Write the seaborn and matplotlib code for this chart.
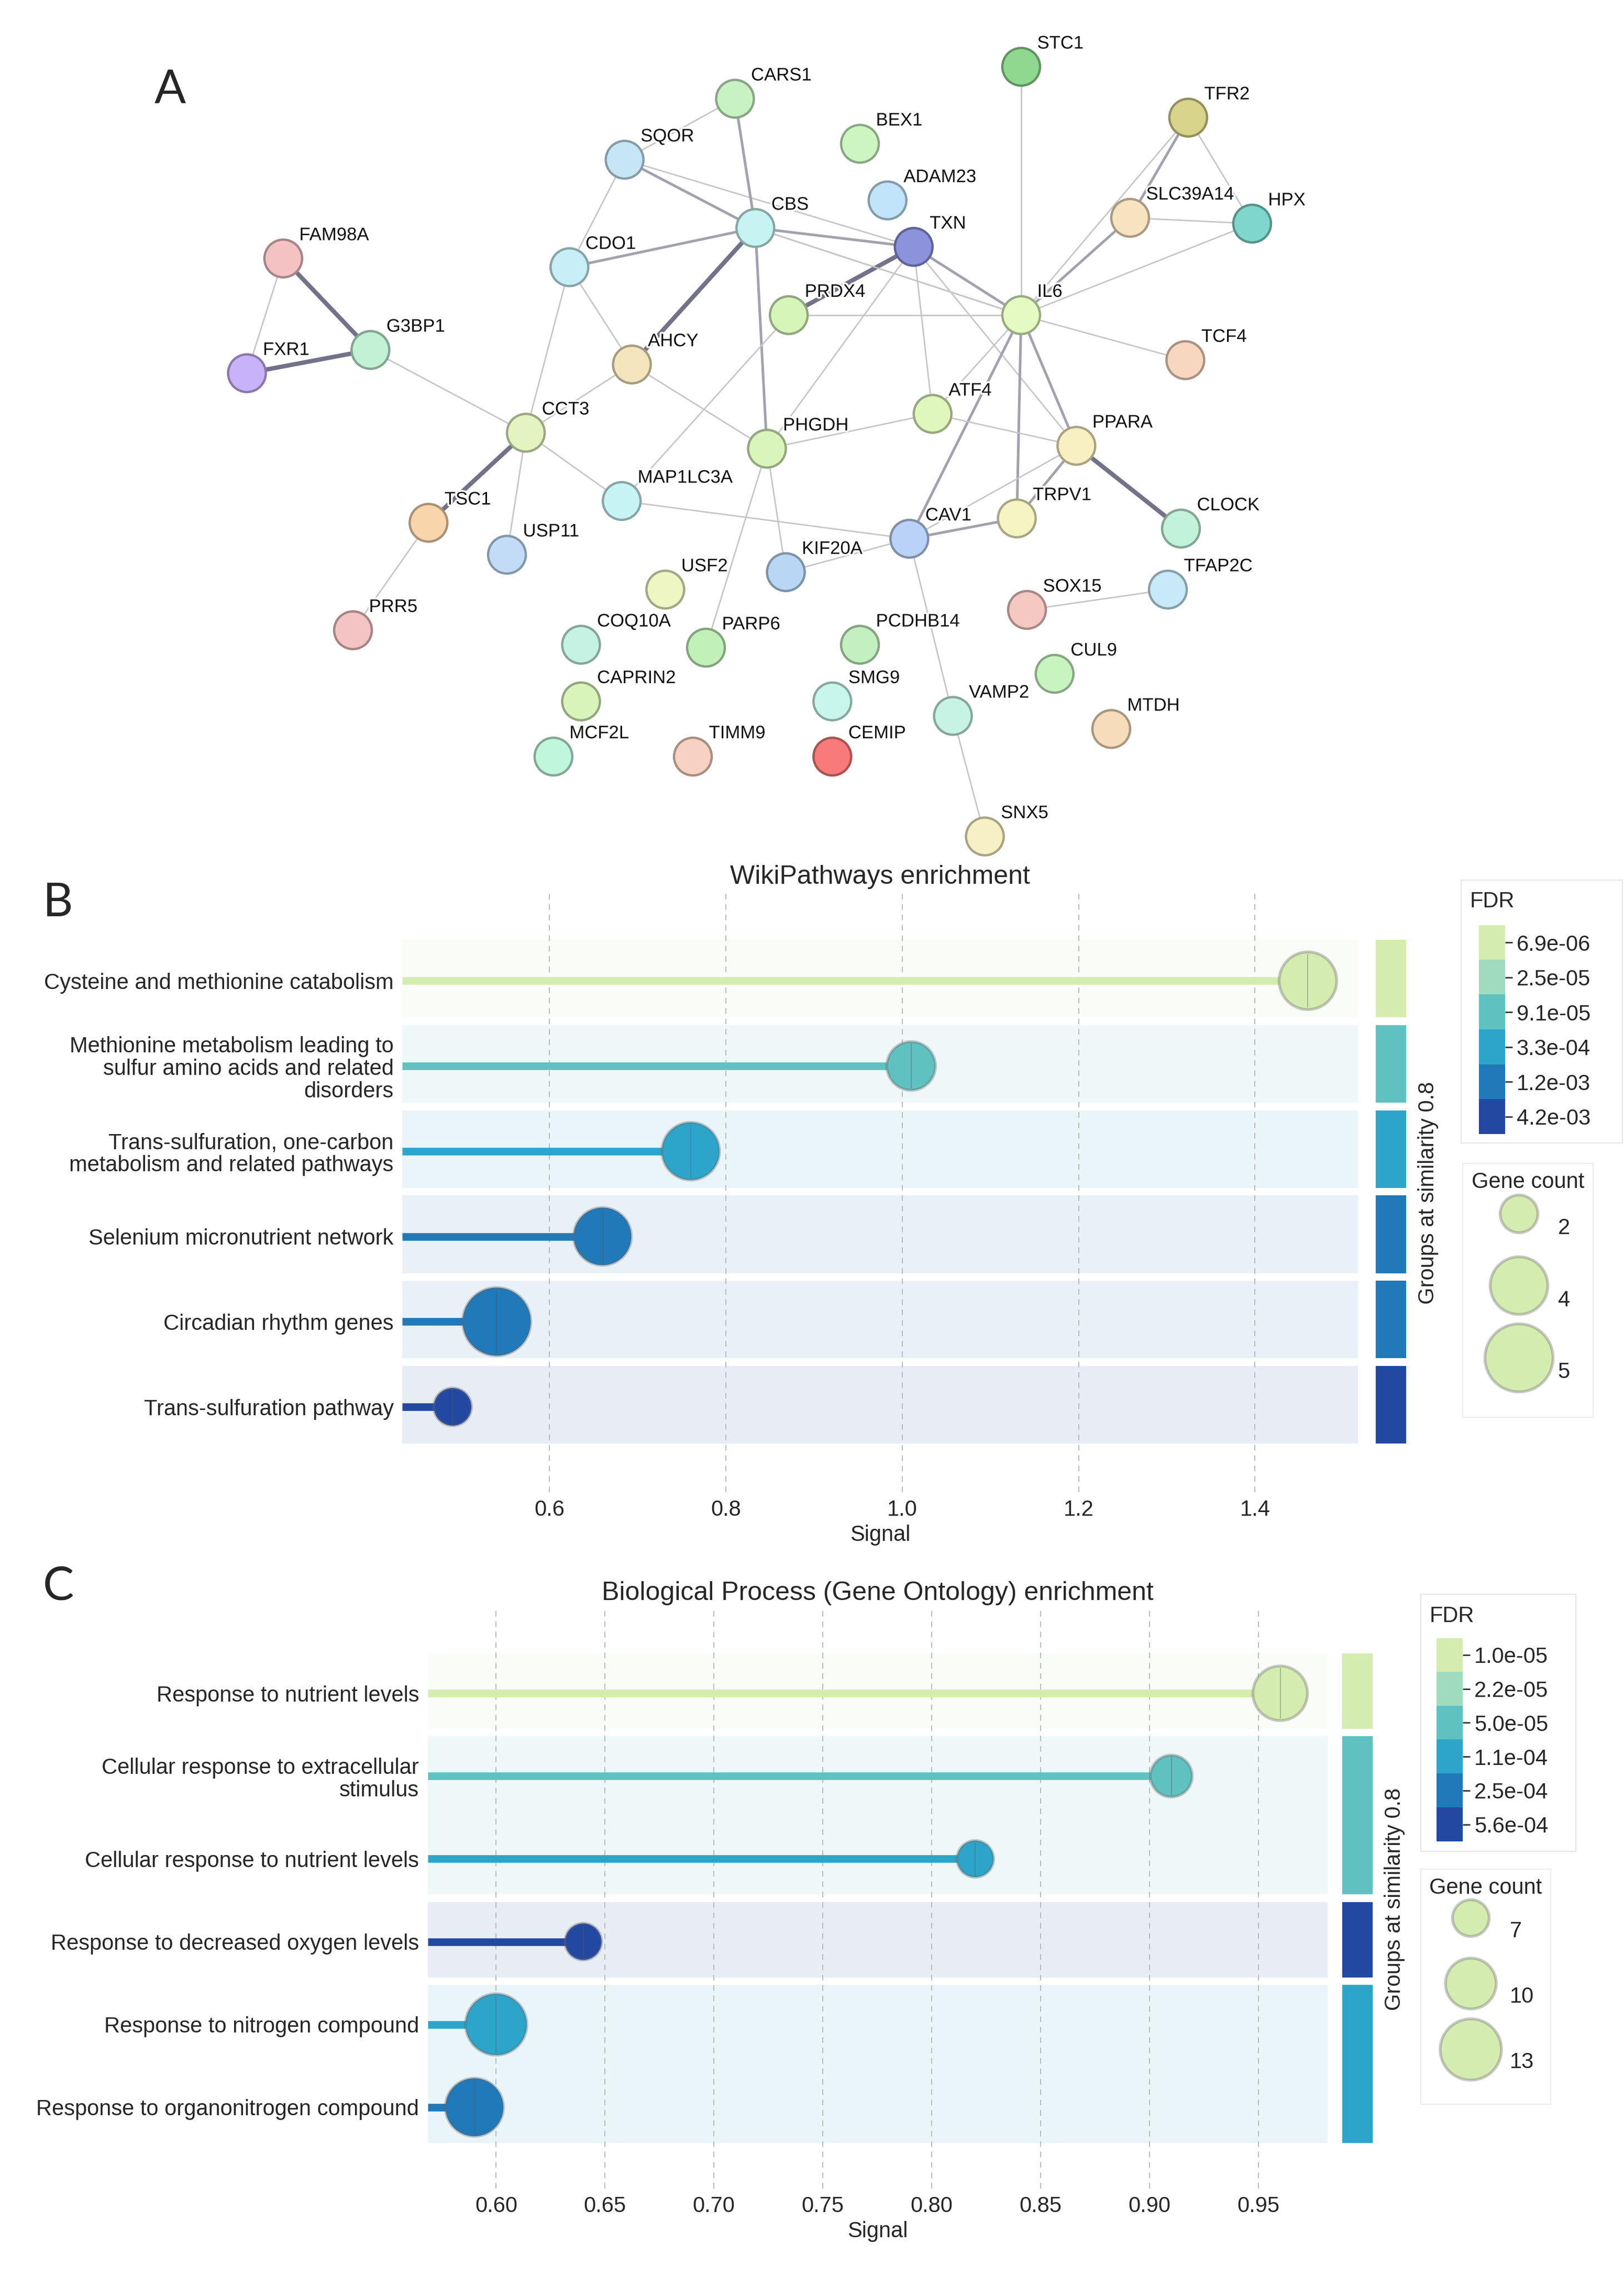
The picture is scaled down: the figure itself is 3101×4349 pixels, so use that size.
import numpy as np
import pandas as pd
import matplotlib
matplotlib.use("Agg")
import matplotlib.pyplot as plt
import matplotlib.patheffects as pe
from matplotlib.colors import ListedColormap, to_rgb
from matplotlib.lines import Line2D
import seaborn as sns

# ================== DATA ==================

# --- A: STRING network (layout coordinates on a 1118 x 590 canvas) ---
genes = ["STC1", "TFR2", "CARS1", "BEX1", "SQOR", "ADAM23", "CBS", "TXN",
         "SLC39A14", "HPX", "FAM98A", "CDO1", "PRDX4", "IL6", "G3BP1", "FXR1",
         "AHCY", "TCF4", "CCT3", "ATF4", "PHGDH", "PPARA", "MAP1LC3A", "TSC1",
         "TRPV1", "CLOCK", "CAV1", "USP11", "KIF20A", "TFAP2C", "USF2", "SOX15",
         "PRR5", "COQ10A", "PARP6", "PCDHB14", "CUL9", "CAPRIN2", "SMG9",
         "VAMP2", "MTDH", "MCF2L", "TIMM9", "CEMIP", "SNX5"]
node_x = [703, 818, 506, 592, 430, 611, 520, 629, 778, 862,
          195, 392, 543, 703, 255, 170, 435, 816, 362, 642,
          528, 741, 428, 295, 700, 813, 626, 349, 541, 804,
          458, 707, 243, 400, 486, 592, 726, 400, 573, 656,
          765, 381, 477, 573, 678]
node_y = [46, 81, 68, 99, 110, 138, 157, 170, 150, 154,
          178, 184, 217, 217, 241, 257, 251, 248, 298, 285,
          309, 307, 345, 360, 357, 364, 371, 382, 394, 406,
          406, 420, 434, 444, 446, 444, 464, 483, 483, 493,
          502, 521, 521, 521, 576]
node_fill = ["#90d890", "#d8d48c", "#c8f2c4", "#cdf5c2", "#c6e6f6", "#c2e4fa",
             "#c6f4f2", "#8c92dc", "#f8e3c0", "#7fd6cc", "#f5c2c4", "#c8eff7",
             "#d5f5b9", "#e4fac2", "#c2f1d6", "#c8b2f8", "#f4e5bc", "#f8d7c0",
             "#e4f4c0", "#dff6bc", "#daf5bb", "#f8efc2", "#c8f3f4", "#f9d5ac",
             "#f4f5c2", "#c2f2d8", "#b9d2f6", "#c2dcf8", "#bad6f5", "#c7e9f8",
             "#eef6c4", "#f5c9c2", "#f4c3c3", "#c6f2e4", "#c2f0b9", "#c4f0c1",
             "#c8f4bf", "#d8f4bb", "#c9f6ec", "#c7f3e5", "#f7dcbb", "#c0f6dc",
             "#f7d1c1", "#f87a7a", "#f7f0c4"]

edge_a = ["FAM98A", "FAM98A", "FXR1", "G3BP1", "SQOR", "SQOR", "SQOR", "SQOR",
          "CARS1", "CDO1", "CDO1", "CDO1", "CBS", "CBS", "CBS", "CBS",
          "TXN", "TXN", "TXN", "TXN", "TXN", "PRDX4", "PRDX4",
          "IL6", "IL6", "IL6", "IL6", "IL6", "IL6", "IL6", "IL6",
          "SLC39A14", "SLC39A14", "TFR2", "STC1", "AHCY", "AHCY",
          "CCT3", "CCT3", "CCT3", "TSC1", "MAP1LC3A", "PHGDH", "PHGDH", "PHGDH",
          "ATF4", "PPARA", "PPARA", "PPARA", "CAV1", "CAV1", "CAV1",
          "VAMP2", "SOX15", "IL6"]
edge_b = ["G3BP1", "FXR1", "G3BP1", "CCT3", "CARS1", "CBS", "TXN", "CDO1",
          "CBS", "CBS", "AHCY", "CCT3", "AHCY", "PHGDH", "TXN", "IL6",
          "PRDX4", "IL6", "ATF4", "PHGDH", "PPARA", "IL6", "MAP1LC3A",
          "SLC39A14", "TFR2", "HPX", "TCF4", "ATF4", "CAV1", "TRPV1", "PPARA",
          "TFR2", "HPX", "HPX", "IL6", "CCT3", "PHGDH",
          "TSC1", "USP11", "MAP1LC3A", "PRR5", "CAV1", "ATF4", "KIF20A", "PARP6",
          "PPARA", "TRPV1", "CLOCK", "CAV1", "TRPV1", "KIF20A", "VAMP2",
          "SNX5", "TFAP2C", "CBS"]
edge_w = [3, 1, 3, 1, 1, 2, 1, 1,
          2, 2, 1, 1, 3, 2, 2, 1,
          3, 2, 1, 1, 1, 1, 1,
          2, 1, 1, 1, 1, 2, 2, 2,
          2, 1, 1, 1, 1, 1,
          3, 1, 1, 1, 1, 1, 1, 1,
          1, 2, 3, 1, 2, 1, 1,
          1, 1, 1]

# --- B: WikiPathways enrichment ---
wp_terms = ["Cysteine and methionine catabolism",
            "Methionine metabolism leading to\nsulfur amino acids and related\ndisorders",
            "Trans-sulfuration, one-carbon\nmetabolism and related pathways",
            "Selenium micronutrient network",
            "Circadian rhythm genes",
            "Trans-sulfuration pathway"]
wp_signal = [1.46, 1.01, 0.76, 0.66, 0.54, 0.49]
wp_fdr = [6.9e-06, 9.1e-05, 3.3e-04, 1.2e-03, 1.2e-03, 4.2e-03]
wp_count = [4, 3, 4, 4, 5, 2]
wp_group = [1, 2, 3, 4, 5, 6]
wp_fdr_ticks = [6.9e-06, 2.5e-05, 9.1e-05, 3.3e-04, 1.2e-03, 4.2e-03]
wp_count_ticks = [2, 4, 5]
wp_xticks = [0.6, 0.8, 1.0, 1.2, 1.4]

# --- C: GO Biological Process enrichment ---
bp_terms = ["Response to nutrient levels",
            "Cellular response to extracellular\nstimulus",
            "Cellular response to nutrient levels",
            "Response to decreased oxygen levels",
            "Response to nitrogen compound",
            "Response to organonitrogen compound"]
bp_signal = [0.96, 0.91, 0.82, 0.64, 0.60, 0.59]
bp_fdr = [1.0e-05, 5.0e-05, 1.1e-04, 5.6e-04, 1.1e-04, 2.5e-04]
bp_count = [11, 8, 7, 7, 13, 12]
bp_group = [1, 2, 2, 3, 4, 4]
bp_fdr_ticks = [1.0e-05, 2.2e-05, 5.0e-05, 1.1e-04, 2.5e-04, 5.6e-04]
bp_count_ticks = [7, 10, 13]
bp_xticks = [0.60, 0.65, 0.70, 0.75, 0.80, 0.85, 0.90, 0.95]

# ================== STYLE ==================
FDR_COLORS = ["#d5ecb1", "#a0dbbf", "#60c1c1", "#2da5cb", "#2079b9", "#2348a2"]
RING = (0.40, 0.40, 0.40, 0.35)
EDGE_STYLE = {1: (2.0, "#c6c6c6"), 2: (3.6, "#a2a2ae"), 3: (6.0, "#72728a")}
DPI = 100
W, H = 1118, 1568          # layout grid (reference scaled down)
FS = 30                    # base font size (pt)

sns.set_theme(style="white")
plt.rcParams["font.family"] = ["Liberation Sans", "DejaVu Sans"]


def rect(x0, y0, x1, y1):
    return [x0 / W, 1 - y1 / H, (x1 - x0) / W, (y1 - y0) / H]


def diam_to_s(d_px):
    return (np.asarray(d_px) * 72 / DPI) ** 2


def fdr_index(v, ticks):
    return int(np.argmin(np.abs(np.log10(ticks) - np.log10(v))))


fig = plt.figure(figsize=(3101 / DPI, 4349 / DPI), dpi=DPI)

# ================== A: network ==================
axA = fig.add_axes(rect(0, 0, W, 590))
axA.set_xlim(0, W)
axA.set_ylim(590, 0)
axA.axis("off")

pos = {g: (x, y) for g, x, y in zip(genes, node_x, node_y)}
for a, b, w in zip(edge_a, edge_b, edge_w):
    lw, col = EDGE_STYLE[w]
    axA.plot([pos[a][0], pos[b][0]], [pos[a][1], pos[b][1]],
             color=col, lw=lw, zorder=1, solid_capstyle="round")

nodes = pd.DataFrame({"gene": genes, "x": node_x, "y": node_y, "fill": node_fill})
sns.scatterplot(data=nodes, x="x", y="y", hue="gene",
                palette=dict(zip(nodes.gene, nodes.fill)),
                s=float(diam_to_s(72)), linewidth=3.2, legend=False,
                ax=axA, zorder=3)
node_edge = [tuple(c * 0.68 for c in to_rgb(f)) for f in node_fill]
axA.collections[-1].set_edgecolors(node_edge)
axA.set_xlabel("")
axA.set_ylabel("")

for g, x, y in zip(genes, node_x, node_y):
    axA.text(x + 11, y - 16, g, fontsize=25, ha="left", va="center",
             color="#111111", zorder=4,
             path_effects=[pe.withStroke(linewidth=5, foreground="white")])

# ================== B / C: enrichment lollipops ==================


def enrichment(main_box, bar_box, terms, signal, fdr, count, group, fdr_ticks,
               count_ticks, count_diam, xlim, ylim, xticks, xfmt, title):
    df = pd.DataFrame({"term": terms, "signal": signal, "fdr": fdr,
                       "count": count, "group": group})
    df["y"] = np.arange(len(df))
    df["color"] = [FDR_COLORS[fdr_index(v, fdr_ticks)] for v in df.fdr]

    ax = fig.add_axes(rect(*main_box))
    bar = fig.add_axes(rect(*bar_box))

    for g, sub in df.groupby("group"):
        gcol = sub.color.iloc[0]
        lo, hi = sub.y.min() - 0.48, sub.y.max() + 0.43
        ax.axhspan(lo, hi, color=gcol, alpha=0.1, lw=0, zorder=0)
        bar.axhspan(lo, hi, color=gcol, lw=0)

    ax.hlines(df.y, xlim[0], df.signal, colors=df.color, lw=10.5, zorder=3)

    area_ref = np.square(count_diam)
    sizes = {c: float(diam_to_s(np.sqrt(np.interp(c, count_ticks, area_ref))))
             for c in df["count"].unique()}
    sns.scatterplot(data=df, x="signal", y="y", hue="term",
                    palette=dict(zip(df.term, df.color)), size="count",
                    sizes=sizes, edgecolor=RING, linewidth=4, legend=False,
                    ax=ax, zorder=4)
    ax.scatter(df.signal, df.y, s=[sizes[c] * 0.85 for c in df["count"]],
               marker="|", color=(0.35, 0.35, 0.35, 0.45), linewidths=1.2,
               zorder=5)

    ax.set_xlim(*xlim)
    ax.set_ylim(*ylim)
    ax.set_xticks(xticks)
    ax.set_xticklabels([xfmt.format(t) for t in xticks])
    ax.set_yticks(df.y)
    ax.set_yticklabels(df.term, linespacing=1.1)
    ax.grid(axis="x", color="#b4b4b4", lw=1.3, ls=(0, (6, 5)))
    ax.grid(axis="y", visible=False)
    ax.set_axisbelow(True)
    ax.tick_params(axis="both", length=0, labelsize=FS)
    ax.tick_params(axis="x", pad=10)
    ax.tick_params(axis="y", pad=12)
    ax.set_xlabel("Signal", fontsize=FS, labelpad=6)
    ax.set_ylabel("")
    ax.set_title(title, fontsize=36, pad=14)
    sns.despine(ax=ax, left=True, bottom=True)

    bar.set_xlim(0, 1)
    bar.set_ylim(*ylim)
    bar.set_xticks([])
    bar.set_yticks([])
    for s in bar.spines.values():
        s.set_visible(False)
    bar.set_facecolor("none")
    bar.yaxis.set_label_position("right")
    bar.set_ylabel("Groups at similarity 0.8", fontsize=FS, rotation=90,
                   labelpad=16)
    return ax


def fdr_legend(box, cbar_box, title_xy, ticks):
    bx = fig.add_axes(rect(*box))
    bx.set_xticks([])
    bx.set_yticks([])
    bx.set_facecolor("white")
    for s in bx.spines.values():
        s.set_color("#e6e6e6")
        s.set_linewidth(1.5)
    cax = fig.add_axes(rect(*cbar_box))
    cax.imshow(np.arange(len(ticks))[:, None], cmap=ListedColormap(FDR_COLORS),
               aspect="auto", interpolation="nearest")
    cax.set_xticks([])
    cax.set_yticks(range(len(ticks)))
    cax.set_yticklabels([f"{t:.1e}" for t in ticks])
    cax.yaxis.tick_right()
    cax.tick_params(axis="y", length=10, width=2, color="#333333",
                    labelsize=FS, pad=6)
    for s in cax.spines.values():
        s.set_visible(False)
    fig.text(title_xy[0] / W, 1 - title_xy[1] / H, "FDR", fontsize=FS,
             ha="left", va="center")


def count_legend(anchor, ticks, diam, row_h):
    handles = [Line2D([], [], ls="", marker="o", markersize=d * 72 / DPI,
                      markerfacecolor=FDR_COLORS[0], markeredgecolor=RING,
                      markeredgewidth=4) for d in diam]
    leg = fig.legend(handles, [str(t) for t in ticks], title="Gene count",
                     loc="upper left",
                     bbox_to_anchor=(anchor[0] / W, 1 - anchor[1] / H),
                     bbox_transform=fig.transFigure, fontsize=FS,
                     title_fontsize=FS, frameon=True, fancybox=False,
                     edgecolor="#e6e6e6", borderpad=0.4, borderaxespad=0,
                     handlelength=3.0, handletextpad=0.3, labelspacing=0.0,
                     handleheight=row_h)
    leg.get_frame().set_linewidth(1.5)


# B
enrichment((277, 615.5, 935, 1027.5), (947, 615.5, 968, 1027.5),
           wp_terms, wp_signal, wp_fdr, wp_count, wp_group, wp_fdr_ticks,
           wp_count_ticks, [72, 110, 130], (0.433, 1.517),
           (6.0, -1.02), wp_xticks, "{:.1f}", "WikiPathways enrichment")
fdr_legend((1006, 606, 1117, 787), (1018, 637, 1036, 781), (1012, 621),
           wp_fdr_ticks)
count_legend((1007, 801), wp_count_ticks, [72, 110, 130], 4.7)

# C
enrichment((294.5, 1109, 914, 1507), (924, 1109, 945, 1507),
           bp_terms, bp_signal, bp_fdr, bp_count, bp_group, bp_fdr_ticks,
           bp_count_ticks, [70, 97, 117], (0.5686, 0.9818),
           (5.98, -1.0), bp_xticks, "{:.2f}",
           "Biological Process (Gene Ontology) enrichment")
fdr_legend((978, 1098, 1085, 1275), (989, 1128, 1007, 1268), (984, 1113),
           bp_fdr_ticks)
count_legend((978, 1287), bp_count_ticks, [70, 97, 117], 4.25)

# panel letters
for letter, (lx, ly) in zip("ABC", [(117, 62), (40, 622), (40, 1093)]):
    fig.text(lx / W, 1 - ly / H, letter, fontsize=64, ha="center",
             va="center", family=["Lato", "DejaVu Sans"])

fig.savefig("out.png", dpi=DPI)
